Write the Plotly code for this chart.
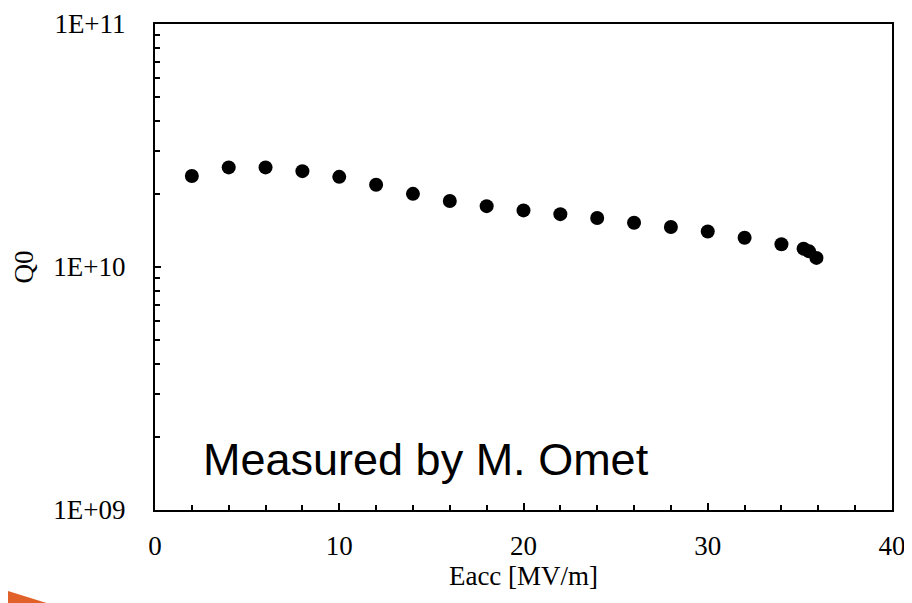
import plotly.graph_objects as go

eacc = [2, 4, 6, 8, 10, 12, 14, 16, 18, 20, 22, 24, 26, 28, 30, 32, 34, 35.2, 35.5, 35.9]
q0 = [2.37e10, 2.57e10, 2.57e10, 2.48e10, 2.35e10, 2.18e10, 2.0e10, 1.87e10, 1.78e10,
      1.71e10, 1.65e10, 1.59e10, 1.52e10, 1.46e10, 1.40e10, 1.32e10, 1.24e10,
      1.19e10, 1.16e10, 1.09e10]

y_ticks = [1e9, 1e10, 1e11]
y_ticktext = ["1E+09", "1E+10", "1E+11"]
y_minor = [m * 10 ** e for e in (9, 10) for m in range(2, 10)]
x_ticks = [0, 10, 20, 30, 40]

serif = "Liberation Serif, Times New Roman, serif"

fig = go.Figure()
fig.add_trace(go.Scatter(
    x=eacc, y=q0, mode="markers",
    marker=dict(color="black", size=14, line=dict(width=0)),
    showlegend=False,
))

fig.update_layout(
    width=912, height=603,
    margin=dict(l=147, r=28, t=16, b=101),
    paper_bgcolor="white", plot_bgcolor="white",
    font=dict(family=serif, size=27, color="black"),
    xaxis=dict(
        range=[0, 40], tickmode="array", tickvals=x_ticks, automargin=False,
        ticklabeloverflow="allow",
        ticks="inside", ticklen=7, tickwidth=1.5, tickcolor="black",
        showline=True, linecolor="black", linewidth=2, mirror=True,
        showgrid=False, zeroline=False,
        tickfont=dict(family=serif, size=27),
        ticklabelstandoff=11,
        minor=dict(dtick=2, ticks="inside", ticklen=5, tickwidth=1.5, tickcolor="black", showgrid=False),
        title=dict(text="Eacc [MV/m]", font=dict(family=serif, size=27), standoff=6),
    ),
    yaxis=dict(
        type="log", range=[8.99999, 11.00001], tickmode="array", tickvals=y_ticks, ticktext=y_ticktext,
        automargin=False, ticklabeloverflow="allow",
        ticks="inside", ticklen=6, tickwidth=1.5, tickcolor="black",
        showline=True, linecolor="black", linewidth=2, mirror=True,
        showgrid=False, zeroline=False,
        tickfont=dict(family=serif, size=27),
        ticklabelstandoff=22,
        minor=dict(tickmode="array", tickvals=y_minor, ticks="inside", ticklen=5, tickwidth=1.5,
                   tickcolor="black", showgrid=False),
        title=dict(text="Q0", font=dict(family=serif, size=27), standoff=12),
    ),
    annotations=[dict(
        text="Measured by M. Omet", xref="paper", yref="paper",
        x=0.062, y=0.104, xanchor="left", yanchor="middle", showarrow=False,
        font=dict(family="Liberation Sans, Arial, sans-serif", size=45, color="black"),
    )],
    shapes=[dict(
        type="path", xref="paper", yref="paper",
        path="M -0.2103,-0.1616 L -0.2103,-0.2004 L -0.1275,-0.2004 Z",
        fillcolor="#E0622A", line=dict(width=0), layer="above",
    )],
)

fig.write_html("out.html")
